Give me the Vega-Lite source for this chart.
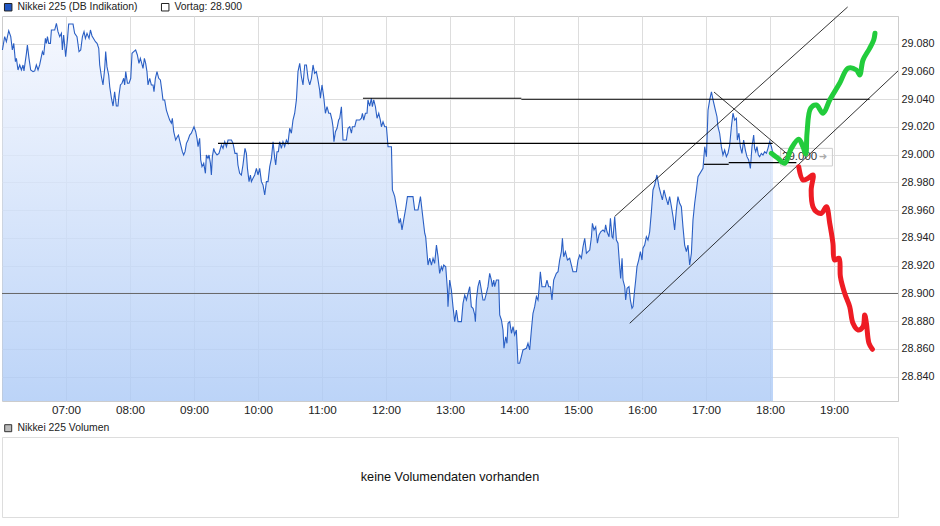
{
"$schema":"https://vega.github.io/schema/vega-lite/v6.json",
"padding":{"left":-1,"top":1,"right":0,"bottom":0},
"config":{"font":"Liberation Sans","view":{"stroke":"#cccccc"},"axis":{"gridColor":"#dddddd","gridWidth":1,"domain":false,"ticks":false,"labelColor":"#222222","labelFont":"Liberation Sans","labelOverlap":false}},
"datasets":{
"price":[
{"m":360.4,"p":29075.5},{"m":362.5,"p":29085.1},{"m":364.1,"p":29081.5},{"m":366.3,"p":29089.4},{"m":368.2,"p":29085.1},{"m":369.7,"p":29075.5},{"m":371.0,"p":29080.3},{"m":372.6,"p":29067.1},{"m":373.5,"p":29069.5},{"m":375.0,"p":29061.1},
{"m":376.6,"p":29064.7},{"m":378.2,"p":29061.1},{"m":379.7,"p":29064.7},{"m":380.6,"p":29060.4},{"m":382.9,"p":29073.1},{"m":383.8,"p":29079.1},{"m":385.3,"p":29069.5},{"m":386.9,"p":29061.1},{"m":389.1,"p":29059.9},{"m":390.7,"p":29060.4},
{"m":392.2,"p":29064.7},{"m":393.8,"p":29061.1},{"m":395.3,"p":29064.7},{"m":396.9,"p":29070.7},{"m":397.9,"p":29074.3},{"m":399.1,"p":29071.9},{"m":400.7,"p":29083.9},{"m":401.6,"p":29080.3},{"m":402.6,"p":29085.1},{"m":403.8,"p":29080.3},
{"m":405.4,"p":29080.3},{"m":406.3,"p":29089.9},{"m":409.4,"p":29089.9},{"m":411.0,"p":29094.7},{"m":412.5,"p":29088.7},{"m":414.1,"p":29085.1},{"m":415.7,"p":29087.5},{"m":416.6,"p":29075.5},{"m":417.8,"p":29086.3},{"m":419.7,"p":29070.7},
{"m":421.3,"p":29082.7},{"m":422.5,"p":29094.2},{"m":426.6,"p":29094.2},{"m":428.1,"p":29087.5},{"m":430.3,"p":29085.1},{"m":432.2,"p":29074.3},{"m":433.8,"p":29075.5},{"m":435.4,"p":29085.1},{"m":436.9,"p":29088.7},{"m":438.2,"p":29083.9},
{"m":439.7,"p":29087.5},{"m":441.6,"p":29083.9},{"m":442.9,"p":29089.9},{"m":444.4,"p":29085.6},{"m":447.6,"p":29081.5},{"m":449.1,"p":29080.3},{"m":450.7,"p":29076.7},{"m":451.6,"p":29064.7},{"m":453.2,"p":29056.2},{"m":454.7,"p":29050.3},
{"m":456.3,"p":29062.3},{"m":457.2,"p":29074.3},{"m":458.4,"p":29063.5},{"m":460.0,"p":29057.5},{"m":461.0,"p":29049.0},{"m":462.6,"p":29040.7},{"m":464.1,"p":29035.1},{"m":465.6,"p":29045.4},{"m":467.2,"p":29035.1},{"m":468.7,"p":29035.1},
{"m":469.7,"p":29043.1},{"m":471.0,"p":29050.3},{"m":472.5,"p":29051.5},{"m":474.1,"p":29055.1},{"m":475.0,"p":29050.3},{"m":476.0,"p":29059.9},{"m":477.6,"p":29051.5},{"m":479.1,"p":29051.5},{"m":480.7,"p":29055.1},{"m":481.9,"p":29073.1},
{"m":483.5,"p":29074.3},{"m":485.3,"p":29075.5},{"m":486.9,"p":29071.9},{"m":488.4,"p":29065.9},{"m":489.7,"p":29069.5},{"m":491.0,"p":29065.9},{"m":492.2,"p":29062.3},{"m":493.5,"p":29069.5},{"m":494.7,"p":29065.9},{"m":495.9,"p":29059.9},
{"m":496.9,"p":29050.3},{"m":498.5,"p":29055.1},{"m":500.0,"p":29050.3},{"m":501.6,"p":29050.3},{"m":502.5,"p":29045.4},{"m":503.8,"p":29055.1},{"m":505.3,"p":29059.9},{"m":506.9,"p":29055.1},{"m":508.5,"p":29053.9},{"m":510.0,"p":29045.4},
{"m":510.9,"p":29039.5},{"m":512.5,"p":29039.5},{"m":514.1,"p":29032.2},{"m":515.6,"p":29028.6},{"m":517.2,"p":29025.0},{"m":518.8,"p":29022.7},{"m":519.7,"p":29026.3},{"m":521.0,"p":29016.6},{"m":522.8,"p":29010.6},{"m":524.4,"p":29013.0},
{"m":525.4,"p":29014.2},{"m":527.2,"p":29008.2},{"m":529.1,"p":29002.2},{"m":530.3,"p":28999.8},{"m":531.6,"p":29002.2},{"m":532.9,"p":29008.2},{"m":534.4,"p":29010.6},{"m":536.0,"p":29014.2},{"m":537.5,"p":29015.5},{"m":540.0,"p":29020.2},
{"m":541.6,"p":29016.6},{"m":542.8,"p":29011.8},{"m":543.8,"p":29005.8},{"m":545.3,"p":29011.8},{"m":546.3,"p":28996.2},{"m":547.5,"p":28991.4},{"m":549.1,"p":28993.8},{"m":550.7,"p":28986.6},{"m":551.6,"p":28999.8},{"m":553.1,"p":28997.4},
{"m":554.1,"p":28999.8},{"m":555.4,"p":28993.8},{"m":556.3,"p":28985.4},{"m":557.2,"p":28998.6},{"m":558.5,"p":29004.6},{"m":559.4,"p":29002.2},{"m":561.6,"p":28999.8},{"m":563.4,"p":29001.0},{"m":565.7,"p":29007.0},{"m":567.2,"p":29004.6},
{"m":568.8,"p":29009.4},{"m":570.4,"p":29005.8},{"m":571.9,"p":29010.6},{"m":575.1,"p":29010.6},{"m":576.6,"p":29008.2},{"m":578.4,"p":29001.0},{"m":580.3,"p":29001.0},{"m":581.2,"p":28992.6},{"m":582.8,"p":28986.6},{"m":584.4,"p":28985.4},
{"m":585.9,"p":28992.6},{"m":587.8,"p":29004.6},{"m":589.1,"p":29001.0},{"m":590.1,"p":28990.2},{"m":591.6,"p":28980.6},{"m":592.9,"p":28985.4},{"m":593.8,"p":28980.6},{"m":595.3,"p":28983.0},{"m":596.9,"p":28985.4},{"m":598.5,"p":28990.2},
{"m":600.0,"p":28985.4},{"m":601.6,"p":28990.2},{"m":603.2,"p":28980.6},{"m":604.7,"p":28978.2},{"m":606.3,"p":28971.0},{"m":607.9,"p":28980.6},{"m":609.4,"p":28980.6},{"m":611.0,"p":28991.4},{"m":612.6,"p":28997.4},{"m":614.1,"p":29009.4},
{"m":615.7,"p":28997.4},{"m":616.6,"p":28992.6},{"m":617.8,"p":29002.2},{"m":619.1,"p":29002.2},{"m":620.3,"p":29009.4},{"m":621.9,"p":29004.6},{"m":623.4,"p":29009.4},{"m":625.0,"p":29005.8},{"m":626.6,"p":29010.6},{"m":628.1,"p":29008.2},
{"m":629.7,"p":29019.1},{"m":631.3,"p":29015.5},{"m":632.8,"p":29025.0},{"m":634.4,"p":29029.9},{"m":636.0,"p":29039.5},{"m":637.5,"p":29059.9},{"m":639.1,"p":29065.9},{"m":640.7,"p":29056.2},{"m":642.2,"p":29050.3},{"m":643.8,"p":29064.7},
{"m":645.4,"p":29064.7},{"m":646.9,"p":29055.1},{"m":648.5,"p":29050.3},{"m":650.1,"p":29055.1},{"m":651.6,"p":29064.7},{"m":653.1,"p":29058.7},{"m":654.7,"p":29059.9},{"m":656.2,"p":29053.9},{"m":657.8,"p":29046.7},{"m":658.5,"p":29040.7},
{"m":660.0,"p":29050.3},{"m":661.6,"p":29041.8},{"m":663.2,"p":29029.9},{"m":664.7,"p":29034.6},{"m":666.3,"p":29029.9},{"m":667.9,"p":29029.9},{"m":669.4,"p":29025.0},{"m":670.3,"p":29020.2},{"m":671.2,"p":29009.4},{"m":672.6,"p":29016.6},
{"m":674.1,"p":29019.1},{"m":675.6,"p":29025.0},{"m":676.6,"p":29026.3},{"m":678.2,"p":29034.6},{"m":679.7,"p":29010.6},{"m":682.9,"p":29010.6},{"m":684.4,"p":29019.1},{"m":686.0,"p":29020.2},{"m":687.6,"p":29015.5},{"m":688.5,"p":29020.2},
{"m":690.7,"p":29020.2},{"m":692.2,"p":29025.0},{"m":695.3,"p":29025.0},{"m":696.9,"p":29026.3},{"m":697.9,"p":29029.9},{"m":699.1,"p":29025.0},{"m":700.7,"p":29029.9},{"m":702.2,"p":29029.9},{"m":703.1,"p":29039.5},{"m":704.7,"p":29035.1},
{"m":706.3,"p":29040.7},{"m":707.2,"p":29034.6},{"m":708.5,"p":29039.5},{"m":710.1,"p":29034.6},{"m":711.6,"p":29026.3},{"m":713.2,"p":29029.9},{"m":714.7,"p":29025.0},{"m":715.7,"p":29020.2},{"m":717.2,"p":29023.8},{"m":718.8,"p":29020.2},
{"m":720.4,"p":29020.2},{"m":721.9,"p":29005.8},{"m":725.1,"p":29005.8},{"m":726.0,"p":28974.6},{"m":727.2,"p":28972.2},{"m":728.2,"p":28969.8},{"m":730.3,"p":28960.2},{"m":732.2,"p":28950.6},{"m":733.5,"p":28954.2},{"m":735.0,"p":28945.8},
{"m":736.6,"p":28953.0},{"m":738.5,"p":28961.4},{"m":740.1,"p":28969.8},{"m":745.3,"p":28969.8},{"m":746.9,"p":28960.2},{"m":750.0,"p":28960.2},{"m":752.3,"p":28969.8},{"m":754.1,"p":28957.8},{"m":756.3,"p":28943.4},{"m":757.2,"p":28940.9},
{"m":759.4,"p":28920.5},{"m":761.0,"p":28925.4},{"m":762.6,"p":28920.5},{"m":764.1,"p":28925.4},{"m":765.6,"p":28921.7},{"m":767.3,"p":28934.9},{"m":768.8,"p":28926.5},{"m":770.3,"p":28914.5},{"m":771.9,"p":28919.3},{"m":772.9,"p":28916.9},
{"m":774.1,"p":28920.5},{"m":776.0,"p":28919.3},{"m":777.6,"p":28902.5},{"m":778.1,"p":28890.5},{"m":779.7,"p":28909.7},{"m":781.3,"p":28902.5},{"m":782.8,"p":28890.5},{"m":784.4,"p":28879.7},{"m":786.0,"p":28888.1},{"m":787.5,"p":28879.7},
{"m":790.7,"p":28879.7},{"m":792.2,"p":28892.9},{"m":793.8,"p":28898.9},{"m":795.4,"p":28895.3},{"m":796.9,"p":28900.1},{"m":798.5,"p":28904.9},{"m":800.0,"p":28890.5},{"m":801.6,"p":28889.3},{"m":803.2,"p":28884.5},{"m":803.8,"p":28879.7},
{"m":804.7,"p":28895.3},{"m":806.2,"p":28904.9},{"m":807.8,"p":28909.7},{"m":809.4,"p":28902.5},{"m":810.9,"p":28895.3},{"m":812.5,"p":28895.3},{"m":814.1,"p":28900.1},{"m":815.6,"p":28904.9},{"m":817.2,"p":28914.5},{"m":818.8,"p":28909.7},
{"m":819.7,"p":28904.9},{"m":821.0,"p":28909.7},{"m":821.9,"p":28904.9},{"m":823.5,"p":28909.7},{"m":825.6,"p":28909.7},{"m":826.6,"p":28884.5},{"m":828.2,"p":28880.9},{"m":829.7,"p":28873.7},{"m":830.6,"p":28860.5},{"m":832.2,"p":28868.8},
{"m":833.4,"p":28864.1},{"m":834.4,"p":28878.5},{"m":836.0,"p":28879.7},{"m":837.6,"p":28871.3},{"m":839.1,"p":28876.1},{"m":840.6,"p":28870.1},{"m":842.2,"p":28873.7},{"m":843.7,"p":28849.7},{"m":845.3,"p":28849.7},{"m":846.9,"p":28854.4},
{"m":848.4,"p":28859.3},{"m":851.6,"p":28860.5},{"m":853.1,"p":28864.1},{"m":854.7,"p":28859.3},{"m":856.3,"p":28873.7},{"m":857.8,"p":28885.7},{"m":859.4,"p":28890.5},{"m":861.0,"p":28897.7},{"m":862.5,"p":28895.3},{"m":863.4,"p":28902.5},
{"m":864.7,"p":28915.7},{"m":866.2,"p":28904.9},{"m":869.4,"p":28904.9},{"m":870.9,"p":28909.7},{"m":872.5,"p":28904.9},{"m":874.1,"p":28904.9},{"m":875.6,"p":28895.3},{"m":877.2,"p":28909.7},{"m":879.7,"p":28914.5},{"m":881.3,"p":28915.7},
{"m":882.8,"p":28924.1},{"m":884.4,"p":28930.1},{"m":885.4,"p":28939.8},{"m":886.6,"p":28926.5},{"m":888.2,"p":28930.1},{"m":890.1,"p":28924.1},{"m":892.2,"p":28925.4},{"m":893.8,"p":28920.5},{"m":895.3,"p":28915.7},{"m":898.5,"p":28915.7},
{"m":900.0,"p":28924.1},{"m":901.6,"p":28927.7},{"m":903.2,"p":28925.4},{"m":904.7,"p":28933.7},{"m":906.3,"p":28939.8},{"m":907.9,"p":28929.0},{"m":909.4,"p":28930.1},{"m":911.0,"p":28931.3},{"m":912.6,"p":28940.9},{"m":913.5,"p":28950.6},
{"m":915.0,"p":28945.8},{"m":916.6,"p":28948.1},{"m":918.2,"p":28936.2},{"m":919.7,"p":28942.2},{"m":921.3,"p":28944.5},{"m":923.4,"p":28945.8},{"m":925.0,"p":28944.5},{"m":925.9,"p":28949.4},{"m":927.2,"p":28944.5},{"m":929.1,"p":28940.9},
{"m":930.4,"p":28954.2},{"m":931.9,"p":28940.9},{"m":932.8,"p":28939.8},{"m":934.4,"p":28955.3},{"m":936.0,"p":28938.5},{"m":937.5,"p":28936.2},{"m":939.1,"p":28919.3},{"m":940.0,"p":28910.9},{"m":941.3,"p":28925.4},{"m":942.2,"p":28909.7},
{"m":943.8,"p":28904.9},{"m":944.7,"p":28895.3},{"m":946.0,"p":28903.7},{"m":947.8,"p":28904.9},{"m":949.1,"p":28895.3},{"m":950.6,"p":28889.3},{"m":951.6,"p":28890.5},{"m":953.1,"p":28902.5},{"m":954.1,"p":28909.7},{"m":955.3,"p":28919.3},
{"m":956.9,"p":28924.1},{"m":958.5,"p":28930.1},{"m":960.0,"p":28924.1},{"m":960.9,"p":28932.6},{"m":962.5,"p":28934.9},{"m":964.1,"p":28940.9},{"m":965.6,"p":28938.5},{"m":967.2,"p":28944.5},{"m":968.8,"p":28958.9},{"m":970.3,"p":28974.6},
{"m":971.9,"p":28978.2},{"m":974.0,"p":28985.4},{"m":975.9,"p":28977.0},{"m":977.5,"p":28972.2},{"m":979.1,"p":28967.4},{"m":980.6,"p":28974.6},{"m":982.2,"p":28969.8},{"m":984.4,"p":28963.8},{"m":985.9,"p":28969.8},{"m":987.6,"p":28962.5},
{"m":989.1,"p":28955.3},{"m":990.6,"p":28945.8},{"m":992.2,"p":28960.2},{"m":993.7,"p":28969.8},{"m":995.3,"p":28965.0},{"m":996.9,"p":28962.5},{"m":998.4,"p":28948.1},{"m":1000.0,"p":28934.9},{"m":1001.6,"p":28930.1},{"m":1003.1,"p":28934.9},
{"m":1004.7,"p":28920.5},{"m":1006.3,"p":28929.0},{"m":1007.8,"p":28953.0},{"m":1009.4,"p":28965.0},{"m":1011.0,"p":28974.6},{"m":1012.5,"p":28984.2},{"m":1017.2,"p":28990.2},{"m":1018.8,"p":29005.8},{"m":1020.4,"p":28998.6},{"m":1021.9,"p":29032.2},
{"m":1023.5,"p":29039.5},{"m":1025.1,"p":29045.4},{"m":1026.6,"p":29039.5},{"m":1028.8,"p":29032.2},{"m":1030.3,"p":29027.4},{"m":1031.2,"p":29020.2},{"m":1032.8,"p":29015.5},{"m":1034.4,"p":29005.8},{"m":1035.9,"p":28999.8},{"m":1037.5,"p":29003.4},
{"m":1039.1,"p":28998.6},{"m":1040.6,"p":29001.0},{"m":1042.2,"p":29007.0},{"m":1043.8,"p":29020.2},{"m":1045.3,"p":29029.9},{"m":1046.9,"p":29025.0},{"m":1048.5,"p":29026.3},{"m":1049.4,"p":29010.6},{"m":1050.9,"p":29015.5},{"m":1052.2,"p":29005.8},
{"m":1053.7,"p":29001.0},{"m":1055.3,"p":29010.6},{"m":1056.9,"p":29003.4},{"m":1058.4,"p":28998.6},{"m":1060.0,"p":28996.2},{"m":1061.6,"p":28990.2},{"m":1063.1,"p":29005.8},{"m":1064.7,"p":29014.2},{"m":1065.6,"p":29004.6},{"m":1066.6,"p":29002.2},
{"m":1067.8,"p":29005.8},{"m":1069.1,"p":28999.8},{"m":1070.3,"p":28998.6},{"m":1071.9,"p":29001.0},{"m":1073.4,"p":28999.8},{"m":1075.0,"p":29002.2},{"m":1076.6,"p":29001.0},{"m":1078.1,"p":29004.6},{"m":1079.7,"p":29009.4},{"m":1081.3,"p":29005.8},
{"m":1082.8,"p":29001.0}
],
"vortag":[{"m":360,"p":28900},{"m":1200,"p":28900}],
"hlines":[
{"id":"h1","m":562.5,"p":29008.2},{"id":"h1","m":1082.5,"p":29008.2},
{"id":"h2a","m":698.4,"p":29040.7},{"id":"h2a","m":846.9,"p":29040.7},
{"id":"h2b","m":846.9,"p":29040.0},{"id":"h2b","m":1173.4,"p":29040.0},
{"id":"h3a","m":1018.1,"p":28993.1},{"id":"h3a","m":1041.3,"p":28993.1},
{"id":"h3b","m":1041.3,"p":28994.3},{"id":"h3b","m":1104.7,"p":28994.3}
],
"dlines":[
{"id":"c1","m":934.4,"p":28955.5},{"id":"c1","m":1152.8,"p":29106.5},
{"id":"c2","m":948.5,"p":28878.5},{"id":"c2","m":1200.0,"p":29060.4},
{"id":"d1","m":1027.5,"p":29045.2},{"id":"d1","m":1095.7,"p":29000.9}
],
"box":[{"m":1090.0,"m2":1138.5,"p":29004.6,"p2":28991.9}],
"lbl":[{"m":1107.8,"p":28998.6,"t":"29.000"}],
"arrow":[{"m":1129.7,"p":28998.6,"t":"➜"}],
"green":[
{"i":1,"m":1081.3,"p":29001.0},{"i":2,"m":1087.2,"p":28997.6},{"i":3,"m":1093.8,"p":28993.8},{"i":4,"m":1100.0,"p":29004.6},{"i":5,"m":1106.9,"p":29011.1},{"i":6,"m":1110.9,"p":29005.8},{"i":7,"m":1113.5,"p":29000.5},{"i":8,"m":1114.7,"p":29015.5},{"i":9,"m":1118.1,"p":29033.5},{"i":10,"m":1123.5,"p":29035.8},
{"i":11,"m":1129.7,"p":29029.9},{"i":12,"m":1136.0,"p":29039.5},{"i":13,"m":1145.3,"p":29051.5},{"i":14,"m":1153.1,"p":29062.3},{"i":15,"m":1161.0,"p":29061.1},{"i":16,"m":1164.1,"p":29057.5},{"i":17,"m":1167.2,"p":29068.3},{"i":18,"m":1173.4,"p":29076.7},{"i":19,"m":1177.2,"p":29082.7},{"i":20,"m":1178.4,"p":29087.5}
],
"red":[
{"i":1,"m":1106.9,"p":28991.4},{"i":2,"m":1110.9,"p":28981.8},{"i":3,"m":1115.3,"p":28982.9},{"i":4,"m":1120.3,"p":28985.4},{"i":5,"m":1118.6,"p":28974.6},{"i":6,"m":1120.3,"p":28962.5},{"i":7,"m":1123.8,"p":28958.7},{"i":8,"m":1128.2,"p":28957.8},{"i":9,"m":1132.9,"p":28962.5},{"i":10,"m":1136.0,"p":28950.6},
{"i":11,"m":1139.0,"p":28936.2},{"i":12,"m":1140.6,"p":28924.1},{"i":13,"m":1144.7,"p":28925.4},{"i":14,"m":1146.0,"p":28912.1},{"i":15,"m":1150.0,"p":28900.1},{"i":16,"m":1154.7,"p":28890.5},{"i":17,"m":1157.8,"p":28878.5},{"i":18,"m":1162.5,"p":28873.7},{"i":19,"m":1167.2,"p":28876.1},{"i":20,"m":1168.8,"p":28884.5},
{"i":21,"m":1170.4,"p":28878.5},{"i":22,"m":1172.8,"p":28864.1},{"i":23,"m":1176.0,"p":28859.8}
],
"legtop":[{"s":"Nikkei 225 (DB Indikation)"},{"s":"Vortag: 28.900"}],
"legbot":[{"s":"Nikkei 225 Volumen"}],
"msg":[{"t":"keine Volumendaten vorhanden"}]
},
"vconcat":[
{
"width":896,"height":385,
"encoding":{
  "x":{"field":"m","type":"quantitative","title":null,"scale":{"domain":[360,1200],"nice":false,"zero":false},"axis":{"values":[420,480,540,600,660,720,780,840,900,960,1020,1080,1140],"labelExpr":"(floor(datum.value/60)<10?'0':'')+floor(datum.value/60)+':00'","grid":true,"labelFontSize":11.7,"labelPadding":3,"labelOverlap":false}},
  "y":{"field":"p","type":"quantitative","title":null,"scale":{"domain":[28822.5,29100],"nice":false,"zero":false},"axis":{"orient":"right","values":[28840,28860,28880,28900,28920,28940,28960,28980,29000,29020,29040,29060,29080],"labelExpr":"replace(format(datum.value,',.0f'),',','.')","grid":true,"labelFontSize":10.8,"labelPadding":3,"labelOverlap":false,"labelBound":false,"domain":true,"domainColor":"#cccccc"}}
},
"layer":[
{"data":{"name":"price"},"mark":{"type":"area","color":{"gradient":"linear","x1":0,"y1":0,"x2":0,"y2":1,"stops":[{"offset":0,"color":"#f3f6fe"},{"offset":1,"color":"#abc9f6"}]},"fillOpacity":0.8},
 "encoding":{"y2":{"datum":28822.5}}},
{"data":{"name":"vortag"},"mark":{"type":"line","color":"#666666","strokeWidth":1}},
{"data":{"name":"price"},"mark":{"type":"line","color":"#2a5fc4","strokeWidth":1.1}},
{"data":{"name":"box"},"mark":{"type":"rect","fill":"#ffffff","fillOpacity":0.6,"stroke":"#cccccc","strokeWidth":1},
 "encoding":{"x2":{"field":"m2"},"y2":{"field":"p2"}}},
{"data":{"name":"hlines"},"mark":{"type":"line","color":"#000000","strokeWidth":1.2,"clip":false},
 "encoding":{"detail":{"field":"id","type":"nominal"}}},
{"data":{"name":"dlines"},"mark":{"type":"line","color":"#000000","strokeWidth":0.8,"clip":false},
 "encoding":{"detail":{"field":"id","type":"nominal"}}},
{"data":{"name":"lbl"},"mark":{"type":"text","color":"#333333","fontSize":11.5,"font":"Liberation Sans"},
 "encoding":{"text":{"field":"t"}}},
{"data":{"name":"arrow"},"mark":{"type":"text","color":"#aaaaaa","fontSize":10,"font":"DejaVu Sans"},
 "encoding":{"text":{"field":"t"}}},
{"data":{"name":"green"},"mark":{"type":"line","color":"#22cc3c","strokeWidth":5,"strokeCap":"round","strokeJoin":"round","interpolate":"catmull-rom","clip":false},
 "encoding":{"order":{"field":"i","type":"quantitative"}}},
{"data":{"name":"red"},"mark":{"type":"line","color":"#ee1c24","strokeWidth":5,"strokeCap":"round","strokeJoin":"round","interpolate":"catmull-rom","clip":false},
 "encoding":{"order":{"field":"i","type":"quantitative"}}},
{"data":{"name":"legtop"},"mark":{"type":"square","opacity":0,"size":0},
 "encoding":{"fill":{"field":"s","type":"nominal","scale":{"domain":["Nikkei 225 (DB Indikation)","Vortag: 28.900"],"range":["#2157c4","#ffffff"]},
  "legend":{"title":null,"orient":"none","legendX":1,"legendY":-14,"direction":"horizontal","symbolType":"square","symbolSize":56,"symbolOpacity":1,"symbolStrokeColor":"#222222","symbolStrokeWidth":1,"labelFont":"Liberation Sans","labelFontSize":10.4,"labelColor":"#222222","labelOffset":4,"columnPadding":21,"padding":0,
   "encode":{"symbols":{"update":{"stroke":{"value":"#222222"},"strokeWidth":{"value":1},"opacity":{"value":1},"size":{"value":56}}}}}}}}
]
},
{
"width":896,"height":80,
"view":{"stroke":"#dddddd"},
"layer":[
{"data":{"name":"msg"},"mark":{"type":"text","color":"#111111","fontSize":12.7,"font":"Liberation Sans"},"encoding":{"text":{"field":"t"}}},
{"data":{"name":"legbot"},"mark":{"type":"square","opacity":0,"size":0},
 "encoding":{"fill":{"field":"s","type":"nominal","scale":{"domain":["Nikkei 225 Volumen"],"range":["#bbbbbb"]},
  "legend":{"title":null,"orient":"none","legendX":1,"legendY":-14,"symbolType":"square","symbolSize":49,"symbolOpacity":1,"labelFont":"Liberation Sans","labelFontSize":10.4,"labelColor":"#222222","labelOffset":4,"padding":0,
   "encode":{"symbols":{"update":{"stroke":{"value":"#333333"},"strokeWidth":{"value":1},"opacity":{"value":1},"size":{"value":49}}}}}}}}
]
}
],
"spacing":36,
"bounds":"flush",
"resolve":{"scale":{"fill":"independent"},"legend":{"fill":"independent"}}
}
